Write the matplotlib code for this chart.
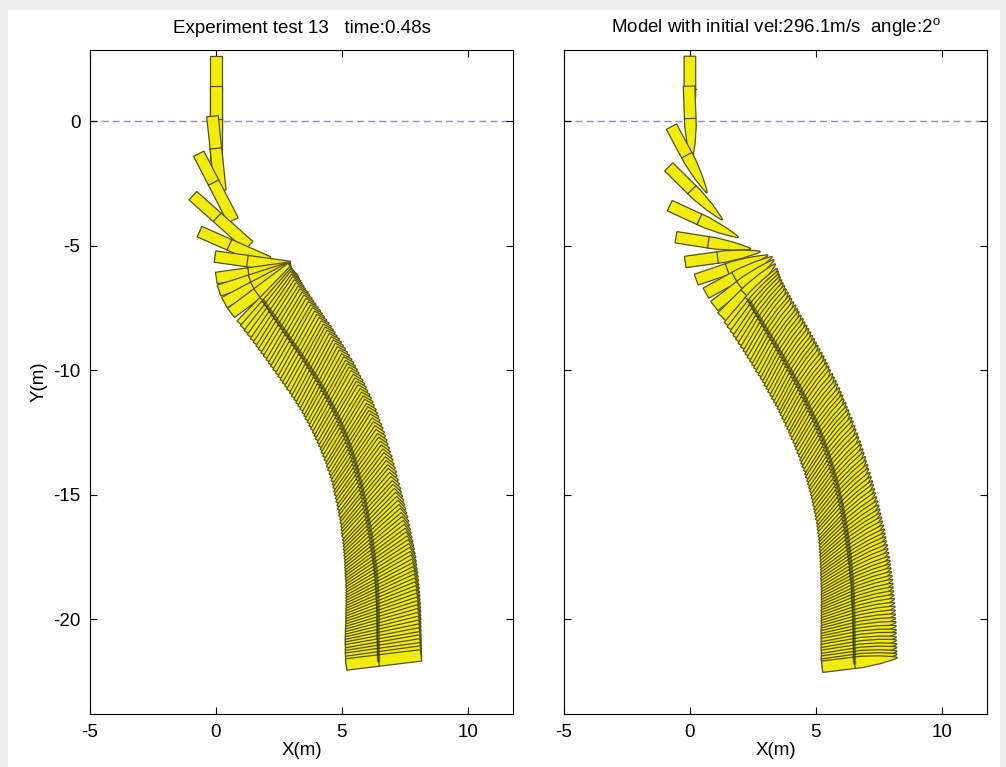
import numpy as np
import matplotlib
matplotlib.use("Agg")
import matplotlib.pyplot as plt
from matplotlib.patches import Polygon, Rectangle

plt.rcParams['font.family'] = ['Liberation Sans', 'DejaVu Sans']
plt.rcParams['mathtext.fontset'] = 'custom'
plt.rcParams['mathtext.rm'] = 'Liberation Sans'
plt.rcParams['axes.unicode_minus'] = False

# experiment test 13: projectile centre (m) and heading (deg) at each frame
exp_x = [0.00, 0.00, 0.02, 0.00, 0.20, 0.72, 1.45, 1.50, 1.55, 1.66, 1.80,
         2.05, 2.13, 2.22, 2.31, 2.40, 2.49, 2.58, 2.67, 2.76, 2.85,
         2.94, 3.03, 3.12, 3.21, 3.30, 3.39, 3.48, 3.57, 3.66, 3.74,
         3.83, 3.91, 4.00, 4.08, 4.16, 4.24, 4.32, 4.40, 4.47, 4.55,
         4.62, 4.69, 4.76, 4.83, 4.90, 4.97, 5.03, 5.09, 5.15, 5.21,
         5.27, 5.33, 5.38, 5.43, 5.48, 5.53, 5.58, 5.63, 5.67, 5.71,
         5.75, 5.79, 5.83, 5.87, 5.91, 5.95, 5.98, 6.02, 6.05, 6.08,
         6.11, 6.14, 6.17, 6.20, 6.23, 6.26, 6.28, 6.31, 6.33, 6.36,
         6.38, 6.40, 6.42, 6.44, 6.46, 6.48, 6.50, 6.52, 6.53, 6.55,
         6.56, 6.57, 6.58, 6.59, 6.60, 6.61, 6.61, 6.62, 6.62, 6.63,
         6.63, 6.64, 6.64, 6.64, 6.64, 6.64, 6.64, 6.64, 6.64, 6.64,
         6.64, 6.65, 6.65, 6.65, 6.65, 6.66, 6.66]
exp_y = [1.10, -0.10, -1.30, -2.65, -4.00, -5.05, -5.65, -6.09, -6.34, -6.58, -6.80,
         -7.10, -7.23, -7.36, -7.49, -7.62, -7.75, -7.88, -8.01, -8.14, -8.27,
         -8.40, -8.53, -8.66, -8.79, -8.92, -9.05, -9.18, -9.31, -9.44, -9.57,
         -9.70, -9.83, -9.96, -10.09, -10.22, -10.35, -10.49, -10.62, -10.76, -10.89,
         -11.03, -11.16, -11.30, -11.44, -11.58, -11.72, -11.86, -12.00, -12.14, -12.28,
         -12.43, -12.57, -12.72, -12.86, -13.01, -13.15, -13.30, -13.45, -13.60, -13.75,
         -13.90, -14.05, -14.20, -14.35, -14.50, -14.65, -14.80, -14.95, -15.10, -15.25,
         -15.40, -15.55, -15.70, -15.85, -16.00, -16.14, -16.29, -16.43, -16.58, -16.72,
         -16.87, -17.01, -17.15, -17.29, -17.43, -17.56, -17.70, -17.83, -17.97, -18.10,
         -18.24, -18.37, -18.51, -18.64, -18.77, -18.90, -19.03, -19.16, -19.29, -19.42,
         -19.55, -19.68, -19.81, -19.94, -20.07, -20.20, -20.33, -20.46, -20.59, -20.72,
         -20.85, -20.98, -21.11, -21.24, -21.37, -21.50, -21.63]
exp_ang = [-90, -90, -84, -63, -42, -24, -8, 8, 18, 28, 37,
           46, 49, 52, 54, 56, 57, 58, 58, 59, 59,
           60, 60, 60, 60, 61, 61, 61, 61, 61, 61,
           62, 62, 62, 62, 62, 62, 62, 62, 61, 61,
           61, 61, 61, 61, 60, 60, 60, 60, 59, 59,
           59, 59, 58, 58, 58, 58, 57, 57, 56, 56,
           55, 55, 54, 54, 53, 53, 52, 52, 51, 51,
           50, 49, 48, 48, 47, 46, 45, 44, 43, 42,
           41, 40, 39, 38, 37, 36, 35, 34, 33, 32,
           31, 30, 29, 28, 27, 26, 25, 24, 23, 22,
           21, 20, 19, 18, 17, 16, 15, 14, 13, 12,
           11, 10, 10, 9, 8, 8, 7]

# model run (initial vel 296.1 m/s, angle 2 deg)
mod_x = [0.00, 0.02, -0.03, 0.22, 0.56, 0.93, 1.30, 1.67, 1.95, 2.15, 2.33,
         2.50, 2.58, 2.66, 2.74, 2.82, 2.90, 2.98, 3.06, 3.14, 3.22,
         3.30, 3.38, 3.46, 3.54, 3.62, 3.70, 3.78, 3.85, 3.93, 4.00,
         4.08, 4.15, 4.23, 4.30, 4.37, 4.44, 4.51, 4.58, 4.65, 4.71,
         4.78, 4.84, 4.91, 4.97, 5.04, 5.10, 5.16, 5.22, 5.28, 5.33,
         5.39, 5.44, 5.50, 5.55, 5.60, 5.65, 5.70, 5.74, 5.79, 5.83,
         5.88, 5.92, 5.96, 6.00, 6.04, 6.07, 6.11, 6.14, 6.18, 6.21,
         6.24, 6.27, 6.30, 6.32, 6.35, 6.37, 6.40, 6.42, 6.44, 6.46,
         6.48, 6.50, 6.52, 6.53, 6.55, 6.56, 6.58, 6.59, 6.61, 6.62,
         6.63, 6.64, 6.65, 6.66, 6.67, 6.67, 6.68, 6.68, 6.69, 6.69,
         6.70, 6.70, 6.71, 6.71, 6.71, 6.71, 6.72, 6.72, 6.72, 6.72,
         6.72, 6.72, 6.73, 6.73, 6.73, 6.73, 6.74]
mod_y = [1.10, -0.10, -1.55, -2.90, -4.03, -4.90, -5.45, -5.88, -6.18, -6.50, -6.80,
         -7.08, -7.22, -7.36, -7.50, -7.63, -7.77, -7.90, -8.04, -8.17, -8.31,
         -8.44, -8.58, -8.71, -8.85, -8.98, -9.12, -9.25, -9.39, -9.52, -9.66,
         -9.79, -9.93, -10.06, -10.20, -10.33, -10.47, -10.60, -10.74, -10.88, -11.02,
         -11.16, -11.30, -11.44, -11.58, -11.72, -11.86, -12.00, -12.15, -12.29, -12.44,
         -12.58, -12.73, -12.87, -13.02, -13.16, -13.31, -13.46, -13.61, -13.76, -13.91,
         -14.06, -14.21, -14.36, -14.51, -14.66, -14.81, -14.96, -15.11, -15.26, -15.41,
         -15.56, -15.71, -15.86, -16.00, -16.15, -16.30, -16.44, -16.59, -16.73, -16.87,
         -17.01, -17.15, -17.29, -17.43, -17.56, -17.70, -17.83, -17.97, -18.10, -18.24,
         -18.37, -18.50, -18.63, -18.76, -18.89, -19.02, -19.15, -19.28, -19.41, -19.54,
         -19.67, -19.80, -19.93, -20.06, -20.19, -20.32, -20.45, -20.58, -20.71, -20.84,
         -20.97, -21.10, -21.23, -21.36, -21.49, -21.61, -21.72]
mod_ang = [-90, -88, -62, -45, -25, -9, 8, 19, 29, 38, 45,
           50, 52, 54, 56, 57, 58, 59, 60, 60, 60,
           61, 61, 61, 61, 62, 62, 62, 62, 62, 62,
           62, 62, 62, 62, 62, 62, 61, 61, 61, 61,
           61, 61, 60, 60, 60, 60, 59, 59, 59, 59,
           58, 58, 58, 58, 57, 57, 56, 56, 55, 55,
           54, 54, 53, 53, 52, 52, 51, 51, 50, 49,
           48, 48, 47, 46, 45, 44, 43, 42, 41, 40,
           39, 38, 37, 36, 35, 34, 33, 32, 31, 30,
           29, 28, 27, 26, 25, 24, 23, 22, 21, 20,
           19, 18, 17, 16, 15, 14, 13, 12, 11, 11,
           10, 10, 9, 9, 8, 8, 7]

titles = ["Experiment test 13   time:0.48s",
          "Model with initial vel:296.1m/s  angle:2$^{\\mathrm{o}}$"]
x_ticks = [-5, 0, 5, 10]
y_ticks = [0, -5, -10, -15, -20]

# projectile outlines in body coordinates (length 3 m, width 0.46 m)
rect_shape = np.array([[-1.5, -0.23], [1.5, -0.23], [1.5, 0.23], [-1.5, 0.23]])
bullet_shape = np.array([[-1.5, -0.23], [0.1, -0.23], [0.8, -0.16], [1.3, -0.07],
                         [1.5, -0.02], [1.5, 0.02], [1.3, 0.07], [0.8, 0.16],
                         [0.1, 0.23], [-1.5, 0.23]])
cg_off = -0.2


def draw_run(ax, xs, ys, angs, shape):
    track = []
    for i, (x, y, a) in enumerate(zip(xs, ys, angs)):
        t = np.deg2rad(a)
        R = np.array([[np.cos(t), -np.sin(t)], [np.sin(t), np.cos(t)]])
        pts = shape @ R.T + [x, y]
        z = 2 + i * 0.01
        ax.add_patch(Polygon(pts, closed=True, facecolor='#f2ec0a',
                             edgecolor='#55531c', lw=0.9, zorder=z))
        mark = np.array([[cg_off, -0.23], [cg_off, 0.23]]) @ R.T + [x, y]
        ax.plot(mark[:, 0], mark[:, 1], color='#4a4818', lw=0.9, zorder=z + 0.005)
        track.append(np.array([cg_off, 0.0]) @ R.T + [x, y])
    track = np.array(track)
    ax.plot(track[11:, 0], track[11:, 1], color='#33320f', lw=2.4, alpha=0.6, zorder=4)


fig = plt.figure(figsize=(10.06, 7.67), dpi=100, facecolor='#efefef')
fig.patches.append(Rectangle((8 / 1006, 0), 992 / 1006, 757 / 767, transform=fig.transFigure,
                             facecolor='white', edgecolor='none', zorder=-5))

ax1 = fig.add_axes([90 / 1006, 53 / 767, 423 / 1006, 664 / 767])
ax2 = fig.add_axes([564 / 1006, 53 / 767, 423 / 1006, 664 / 767])

runs = [(exp_x, exp_y, exp_ang, rect_shape), (mod_x, mod_y, mod_ang, bullet_shape)]
for k, (ax, run) in enumerate(zip([ax1, ax2], runs)):
    draw_run(ax, *run)
    ax.axhline(0, color='#8a8ad0', ls=(0, (5, 3)), lw=1.0, zorder=1)
    ax.set_xlim(-5, 11.8)
    ax.set_ylim(-23.8, 2.85)
    ax.set_xticks(x_ticks)
    ax.set_yticks(y_ticks)
    ax.tick_params(direction='in', length=5, top=True, right=True, labelsize=13.5, pad=7)
    for s in ax.spines.values():
        s.set_linewidth(0.8)
    ax.set_title(titles[k], fontsize=13.5, pad=12)
    ax.set_xlabel("X(m)", fontsize=13.5, labelpad=1)

ax1.set_ylabel("Y(m)", fontsize=13.5, labelpad=4)
ax2.set_yticklabels([])

fig.savefig("out.png", dpi=100, facecolor=fig.get_facecolor())
